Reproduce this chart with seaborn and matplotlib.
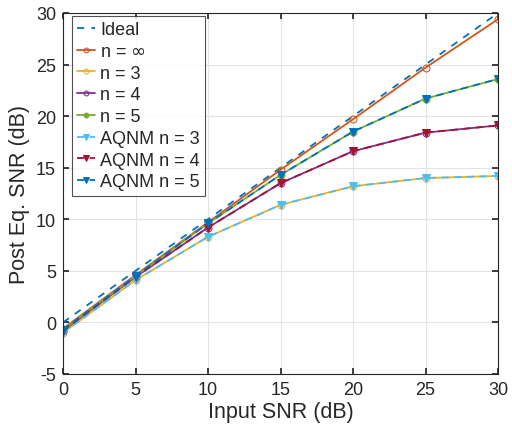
import numpy as np
import pandas as pd
import matplotlib
matplotlib.use("Agg")
import matplotlib.pyplot as plt
import seaborn as sns

snr = [0, 5, 10, 15, 20, 25, 30]
ideal = [0, 5, 10, 15, 20, 25, 30]
n_inf = [-0.6, 4.6, 9.7, 14.8, 19.7, 24.7, 29.4]
n3 = [-1.0, 4.1, 8.3, 11.4, 13.2, 14.0, 14.2]
n4 = [-0.8, 4.4, 9.2, 13.5, 16.6, 18.4, 19.1]
n5 = [-0.7, 4.5, 9.6, 14.3, 18.5, 21.7, 23.6]
aqnm3 = [-1.0, 4.1, 8.3, 11.4, 13.2, 14.0, 14.2]
aqnm4 = [-0.8, 4.4, 9.2, 13.5, 16.6, 18.4, 19.1]
aqnm5 = [-0.7, 4.5, 9.6, 14.3, 18.5, 21.7, 23.6]

labels = ["Ideal", "n = $\\infty$", "n = 3", "n = 4", "n = 5",
          "AQNM n = 3", "AQNM n = 4", "AQNM n = 5"]
series = [ideal, n_inf, n3, n4, n5, aqnm3, aqnm4, aqnm5]
colors = ["#0072BD", "#D95319", "#EDB120", "#7E2F8E", "#77AC30",
          "#4DBEEE", "#A2142F", "#0072BD"]
styles = [(0, (4, 4)), "-", "-", "-", "-", (0, (4, 3)), (0, (4, 3)), (0, (4, 3))]
markers = [None, "o", "o", "o", "o", "v", "v", "v"]

sns.set_theme(style="whitegrid")
plt.rcParams['font.family'] = ['Liberation Sans', 'DejaVu Sans']
plt.rcParams['axes.unicode_minus'] = False

fig = plt.figure(figsize=(5.12, 4.31), dpi=100)
ax = fig.add_axes([63/512, 1-375/431, (498-63)/512, (375-14)/431])

for lab, ys, c, ls, m in zip(labels, series, colors, styles, markers):
    df = pd.DataFrame({"x": snr, "y": ys})
    mfc = "none" if m == "o" else c
    if lab == "n = 5":
        mfc = c
    sns.lineplot(data=df, x="x", y="y", ax=ax, color=c, linestyle=ls,
                 marker=m, markersize=5 if m == "o" else 6,
                 markerfacecolor=mfc, markeredgecolor=c, linewidth=1.3,
                 label=lab)

ax.set_xlim(0, 30)
ax.set_ylim(-5, 30)
ax.set_xticks(range(0, 31, 5))
ax.set_yticks(range(-5, 31, 5))
ax.set_xlabel("Input SNR (dB)", fontsize=15.5, color="#262626", labelpad=2)
ax.set_ylabel("Post Eq. SNR (dB)", fontsize=15.5, color="#262626", labelpad=4)
ax.tick_params(axis="both", labelsize=13, direction="in", length=4,
               colors="#262626", left=True, bottom=True, right=True, top=True,
               pad=5)
ax.grid(True, color="#e3e3e3", linewidth=0.8)
ax.set_facecolor("white")
for s in ax.spines.values():
    s.set_color("#262626")
    s.set_linewidth(0.8)

leg = ax.legend(loc="upper left", bbox_to_anchor=(9/435, 1-3/361),
                fontsize=13, frameon=True, fancybox=False,
                edgecolor="#262626", borderpad=0.3, labelspacing=0.26,
                handlelength=1.0, handletextpad=0.25, borderaxespad=0.0,
                markerscale=0.7)
leg.get_frame().set_linewidth(0.8)

fig.savefig("out.png", dpi=100)
